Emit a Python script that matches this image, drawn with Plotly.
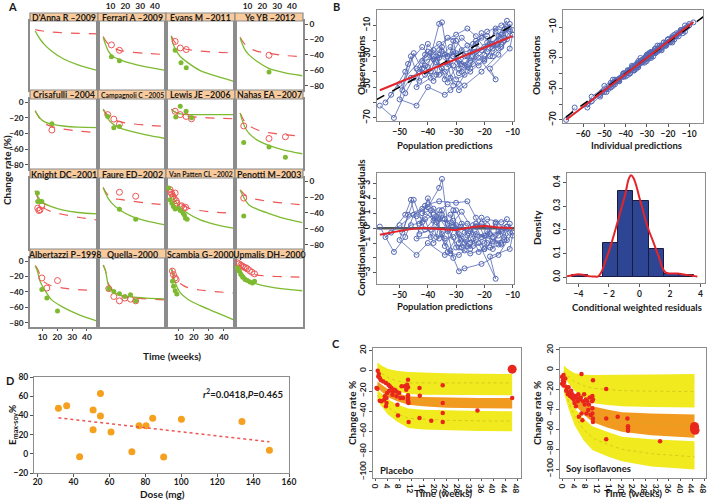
import numpy as np
import plotly.graph_objects as go

W, H = 712, 503
FONT = "Lato"

# ---------------- Panel A data ----------------
studies = ["D'Anna R –2009", "Ferrari A –2009", "Evans M –2011", "Ye YB –2012",
           "Crisafulli –2004", "Campagnoli C –2005", "Lewis JE –2006", "Nahas EA –2007",
           "Knight DC–2001", "Faure ED–2002", "Van Patten CL –2002", "Penotti M–2003",
           "Albertazzi P–1998", "Quella–2000", "Scambia G–2000", "Upmalis DH–2000"]
curve_weeks = [5, 6.5, 8.5, 11, 16, 24, 34, 47]
placebo_curves = [
    [-7, -7.8, -8.5, -9.3, -10.3, -11.3, -12, -12.8],
    [-16, -21, -26, -30, -34, -36.5, -38, -39.5],
    [-15, -21, -26, -30, -33, -35, -36.5, -37.5],
    [-17, -22, -27, -31, -35, -38, -40.5, -42.5],
    [-11, -16, -22, -27, -31, -34.5, -37, -39],
    [-9, -13, -18, -21, -25, -27.5, -29.5, -31],
    [-9, -11.5, -13.5, -16, -18, -19.5, -20.5, -21.3],
    [-14, -20, -26, -30, -35, -39, -41.5, -43.5],
    [-12, -20, -28, -34, -38.5, -42, -45.5, -49],
    [-8, -13, -18, -21, -23, -25, -27.5, -29.8],
    [-12, -17, -22.5, -27, -33.5, -37, -39, -40.4],
    [-11, -14, -17.5, -20.5, -23, -25.5, -27.5, -29.8],
    [-6, -10, -19, -27, -32, -35, -37, -38.5],
    [-5, -12, -29, -37, -44, -47, -49, -50.3],
    [-9, -16, -24, -29, -34.5, -37.5, -39.5, -41.5],
    [-5, -9, -12.5, -15.5, -18, -19.5, -20.3, -21],
]
soy_curves = [
    [-9, -14, -20, -26, -35, -45, -53, -60],
    [-17, -26, -35, -41, -46, -51, -55.5, -60],
    [-16, -27, -35, -42, -50, -60, -67, -74.5],
    [-18, -26, -34, -40, -48, -57, -62.5, -67],
    [-11, -16, -21, -25, -28, -30.5, -32, -32.6],
    [-9, -15, -22, -27, -33, -37.5, -42, -46.5],
    [-9, -11.5, -13.5, -15, -16, -16, -16, -16],
    [-14, -24, -33, -40, -48, -55, -61, -66],
    [-12, -18, -24, -28, -32, -36.5, -39.5, -41.3],
    [-8, -15, -22, -28, -36, -44, -50, -55],
    [-15, -21, -27, -33, -40.5, -48.5, -54.5, -59.6],
    [-11, -17, -24, -30, -35, -40.5, -46.5, -52.3],
    [-6, -13, -27, -36, -50, -60, -69, -77.8],
    [-5, -12, -31, -38, -44, -46.5, -48, -49],
    [-10, -20, -32, -41, -49.5, -57.5, -66, -76.5],
    [-10, -16, -21, -25.5, -29.5, -33, -36, -38.5],
]
placebo_obs_weeks = [
    [48.5], [10.6, 16], [7.6, 11, 15], [24.5],
    [16.3], [8.1, 12.2, 16], [7.6, 11, 14.9, 18.5], [7.4, 24.5, 35.6],
    [6.7, 8.3, 9.5, 7.5], [16, 27, 48], [4.2, 4.7, 5.4, 6.1, 7, 7.6, 8.3, 8.8, 11, 12, 13.3, 14.6], [7.4],
    [9.5, 12.9, 20.1], [8.8, 12.2, 16, 19.7, 23.5, 27], [5.8, 6.5, 7.6, 8.3],
    [3.1, 4.2, 5.4, 6.5, 7.6, 8.8, 9.9, 11.3, 12.9, 14.7],
]
placebo_obs = [
    [-7.7], [-27, -34], [-22.5, -31, -33], [-40.4],
    [-35.7], [-16, -21.7, -28.3], [-11.7, -16, -18.3, -21.3], [-30.4, -46.5, -44.3],
    [-34, -36.2, -31, -37], [-14, -19, -32], [-10.6, -14, -16, -19, -22, -15, -24.7, -27.7, -32, -31, -34, -33], [-21.3],
    [-21.9, -35, -25.3], [-35.8, -45.9, -51.6, -48, -49.4, -51.6], [-13, -17.5, -21.9, -24],
    [-2.2, -3.5, -5.2, -6.5, -7.9, -8.7, -10, -12.2, -14.4, -16.6],
]
soy_obs_weeks = [
    [48.5], [10.6, 16], [7.6, 11.5, 15], [24.5],
    [16.3], [8.1, 12.2, 16], [8, 11, 14.9, 18.5], [7.4, 24.5, 35.6],
    [6.5, 6.7, 8.3, 9.5], [16, 27, 48.5], [3.3, 4.2, 5.4, 6.4, 7.6, 9.8, 11, 12.9, 13.8, 14.5, 15.6], [7.4],
    [9.5, 12.9, 20.1], [8.8, 12.2, 16, 19.7, 23.5, 27], [5.8, 6.5, 7.6, 8.7],
    [3.1, 4.2, 5.4, 6.7, 8.3, 9.9, 11.7, 13.3, 14.7],
]
soy_obs = [
    [-62], [-42.5, -47.7], [-34, -50, -56.6], [-62],
    [-27.8], [-18.3, -32.6, -31.3], [-19, -5.2, -11.7, -20], [-51.7, -57.4, -70.4],
    [-14.9, -25.5, -25.5, -25.5], [-35.3, -48, -55], [-8.5, -23.4, -27.7, -32, -35, -34, -37, -40.4, -42.5, -46.8, -48], [-43.8],
    [-37, -48, -64.7], [-35.8, -39.3, -42.4, -45.9, -43.7, -51.6], [-26, -32.8, -38.5, -42.8],
    [-8.7, -13, -17.5, -21, -24, -25.3, -27, -28.4, -26],
]
a_time_ticks = [10, 20, 30, 40]
a_change_ticks = [0, -20, -40, -60, -80]

# ---------------- Panel B data ----------------
pred = [-57, -52, -48, -45, -40, -36, -35, -33, -30, -25, -20, -15, -12, -10, -11, -18, -16, -22, -28, -31,
        -38, -42, -47, -50, -44, -40, -34, -32, -29, -27, -24, -21, -19, -14, -12, -17, -23, -26, -30, -33,
        -36, -39, -43, -46, -48, -53, -55, -50, -41, -37, -34, -31, -28, -25, -20, -16, -13, -11, -10, -15,
        -21, -27, -29, -32, -35, -38, -41, -44, -40, -36, -30, -26, -23, -19, -14,
        -42, -39, -37, -35, -33, -31, -29, -27, -25, -23, -21, -19, -17, -15, -13, -12, -14, -18, -22, -26,
        -30, -34, -38, -42, -46, -49, -45, -41, -37, -33, -29, -25, -21, -17, -13, -11, -16, -20, -24, -28,
        -32, -36, -40, -44, -39, -35, -31, -27, -23, -19, -15, -12, -20, -28, -36, -43, -38, -33, -29, -24,
        -18, -14, -26, -34, -31]
obs = [-62, -70, -54, -44, -37, -9, -8, -30, -45, -40, -32, -20, -12, -16, -25, -38, -45, -31, -35, -27,
       -32, -24, -35, -58, -62, -50, -55, -52, -48, -42, -22, -18, -14, -10, -7, -22, -27, -30, -20, -18,
       -26, -40, -46, -30, -40, -55, -60, -48, -29, -34, -40, -36, -26, -33, -24, -14, -18, -9, -13, -29,
       -40, -49, -52, -44, -38, -46, -36, -38, -27, -22, -16, -12, -17, -27, -22,
       -33, -28, -42, -24, -35, -20, -38, -30, -27, -22, -26, -21, -30, -17, -13, -19, -24, -30, -36, -23,
       -28, -45, -30, -38, -44, -52, -28, -42, -30, -47, -33, -38, -15, -25, -20, -14, -12, -29, -35, -40,
       -24, -31, -22, -50, -44, -27, -30, -36, -20, -17, -25, -11, -33, -18, -42, -40, -26, -34, -41, -30,
       -22, -16, -37, -29, -49]
ipred = [-64, -68, -52, -46, -36, -12, -10, -31, -43, -38, -30, -18, -13, -15, -23, -36, -44, -30, -34, -28,
         -34, -26, -37, -56, -58, -48, -52, -50, -46, -41, -23, -20, -16, -11, -8, -21, -28, -31, -22, -20,
         -27, -41, -47, -33, -41, -56, -58, -50, -30, -35, -40, -37, -27, -32, -24, -15, -17, -10, -12, -27,
         -38, -47, -49, -43, -38, -45, -37, -39, -29, -24, -18, -14, -18, -26, -21,
         -34, -30, -40, -26, -34, -22, -36, -30, -28, -23, -25, -21, -28, -18, -14, -18, -23, -29, -34, -24,
         -29, -43, -31, -39, -45, -51, -30, -41, -31, -45, -33, -36, -17, -25, -19, -13, -14, -28, -34, -38,
         -26, -32, -25, -49, -43, -29, -31, -35, -21, -18, -24, -12, -31, -20, -41, -41, -28, -34, -39, -30,
         -21, -16, -35, -30, -47]
cwres = [0.1, -1.6, -0.6, 0.9, 1.4, 2.7, 3.3, 0.3, -1.3, -1.7, -1.4, -0.5, 0.1, -0.5, -1.4, -1.9, -3.4, -1.0, -0.7, 0.5,
         0.5, 1.3, 0.9, -0.8, -1.8, -1.0, -1.8, -1.7, -1.8, -1.5, 0.2, 0.3, 0.6, 0.4, 0.6, -0.6, -0.4, -0.5, 1.2, 1.6,
         1.2, -0.1, -0.4, 1.9, 0.9, -0.3, -0.6, 0.2, 1.5, 0.4, -0.7, -0.6, 0.3, -1.0, -0.5, 0.3, -0.6, 0.3, -0.3, -1.8,
         -2.4, -2.7, -2.9, -1.5, -0.4, -1.0, 0.6, 0.8, 1.6, 1.8, 1.7, 1.8, 0.7, -1.0, -1.0,
         1.0, 1.2, -0.6, 1.2, -0.2, 1.2, -1.0, -0.3, -0.2, 0.1, -0.6, -0.2, -1.4, -0.2, 0.0, -0.8, -1.1, -1.3, -1.6, 0.3,
         0.2, -1.2, 0.9, 0.4, 0.2, -0.3, 1.9, -0.1, 0.8, -1.6, -0.4, -1.4, 0.7, -0.9, -0.8, -0.3, 0.4, -1.0, -1.2, -1.3,
         0.9, 0.6, 2.0, -0.7, -0.6, 0.9, 0.1, -1.0, 0.3, 0.2, -1.1, 0.1, -1.4, 1.1, -0.7, 0.3, 1.3, -0.1, -1.3, -0.7,
         -0.4, -0.2, -1.2, 0.6, -2.0]
identity_line = [-75, 0]
cwres_smooth_x = [-57, -50, -45, -40, -35, -30, -25, -20, -15, -10]
cwres_smooth_y = [-0.45, -0.2, -0.05, 0.0, -0.08, -0.12, 0.05, 0.15, 0.05, 0.0]
hist_centers = [-3.9, -2.9, -1.9, -0.9, 0.1, 1.1, 2.1, 3.1]
hist_density = [0.01, 0.0, 0.145, 0.365, 0.32, 0.12, 0.015, 0.01]
dens_x = [-4.75, -4.4, -4.0, -3.6, -3.2, -2.9, -2.7, -2.5, -2.27, -2.0, -1.8, -1.36, -0.93, -0.7, -0.55, -0.4,
          -0.2, 0, 0.2, 0.4, 0.6, 0.87, 1.1, 1.3, 1.5, 1.7, 2.0, 2.5, 3.0, 3.5, 3.8]
dens_y = [0.003, 0.008, 0.012, 0.008, 0.003, 0.002, 0.003, 0.02, 0.06, 0.11, 0.15, 0.25, 0.35, 0.415, 0.43, 0.42,
          0.385, 0.335, 0.29, 0.24, 0.2, 0.155, 0.115, 0.08, 0.04, 0.02, 0.015, 0.015, 0.01, 0.006, 0.002]

# ---------------- Panel C data ----------------
vpc_weeks_pl = [0.5, 2, 4, 7, 11, 16, 24, 35, 46.3]
pl_up_hi = [8.5, 5, 2, 0, -1.3, -2, -2.5, -3, -3.3]
pl_up_mid = [1.5, -2.5, -6.5, -10, -12, -12, -12, -12, -12]
pl_up_lo = [-5.6, -10, -15, -20, -23, -23.8, -24.1, -24.3, -24.3]
pl_med_hi = [-10.5, -14, -18, -22, -25.3, -26, -26.5, -27, -27]
pl_med_mid = [-14, -17.5, -22, -26, -29.5, -30.5, -31.5, -32, -32.2]
pl_med_lo = [-17, -21, -26, -30, -33.5, -35, -36.5, -37, -37.4]
pl_lo_hi = [-18.7, -23, -28, -33, -37.4, -38.5, -39.3, -39.8, -40]
pl_lo_mid = [-24, -30, -36, -42, -47, -48, -49, -49.5, -49.8]
pl_lo_lo = [-30, -36, -43, -50, -56.5, -58, -59, -59.5, -59.8]
vpc_weeks_soy = [0.3, 2, 4, 7, 10, 15, 20, 30, 44.7]
so_up_hi = [4.2, 0, -3.5, -5, -5.3, -5.3, -5.3, -4.8, -4.2]
so_up_mid = [-1.5, -7, -12, -16, -18.5, -20, -21, -21.5, -22]
so_up_lo = [-7, -14, -21, -28, -33.3, -35.5, -36.8, -37.5, -37.9]
so_med_hi = [-10.5, -18, -26, -32, -36.8, -40, -42.8, -44, -45]
so_med_mid = [-14, -22, -30.5, -38, -44.5, -48.5, -51.5, -54, -55.4]
so_med_lo = [-17.5, -26, -35, -45, -52.6, -58, -62.5, -66, -68.4]
so_lo_hi = [-14, -26, -38.6, -49, -56.8, -62.5, -67.4, -70, -72]
so_lo_mid = [-18, -33, -47, -60, -68.5, -75, -80, -84.5, -87.7]
so_lo_lo = [-22.8, -40, -56, -71, -80.7, -87, -92, -97.5, -100.5]
pl_t = [0.6, 0.8, 1.0, 1.3, 0.2, 0.5, 1.7, 1.3, 1.9, 2.5, 2.8, 3.0, 3.4, 3.6, 3.6, 3.4, 4.2, 4.5, 3.8, 4.7,
        5.3, 5.6, 5.8, 6.4, 7.0, 7.0, 7.3, 7.5, 7.9, 8.3, 8.7, 9.2, 9.8, 10.3, 10.6, 10.9, 10.9, 10.9, 10.9, 10.9,
        10.9, 11.1, 11.1, 14.8, 14.9, 14.8, 18.8, 22.7, 22.7, 22.7, 22.7, 34.5, 46.3]
pl_v = [0, -5.6, -3.3, -7.2, -17, -17.7, -9.5, -29.6, -30.2, -10.5, -28.6, -25.3, -12.2, -27, -31.9, -35, -13.8, -19.7, -22, -15.4,
        -17, -23.6, -20.4, -18.7, -25.3, -20.4, -33.5, -44.3, -22, -26.9, -15.4, -26.9, -15.4, -18.7, -13.8, -8.9, -16.4, -24.3, -26.9, -29.2,
        -30.9, -31.9, -50.6, -17, -24.6, -46.6, -49.3, -14.4, -31.9, -41.7, -50.6, -39.4, -27]
pl_big_t = [46.3]
pl_big_v = [1.6]
so_t = [-0.3, 0, 0.2, 0.4, -0.3, 0.8, 0.2, 1.1, 1.3, 1.7, 1.9, 2.2, 2.4, 2.8, 3.0, 3.2, 3.6, 3.9, 4.1, 4.4,
        4.7, 5.0, 5.2, 5.4, 5.8, 6.1, 6.3, 6.3, 6.6, 6.9, 7.2, 7.4, 7.8, 8.0, 8.3, 8.6, 8.8, 9.1, 9.4, 9.9,
        10.0, 10.0, 10.0, 10.2, 10.2, 10.2, 10.2, 14.7, 14.7, 14.7, 18.6, 21.9, 22.1, 22.1, 22.1, 33.0]
so_v = [-7, -10.5, -5.3, -12.3, -14, -8.8, -15.8, -21, -17.5, -24.6, -17.5, -22.8, -26.3, -21, -28, -24.6, -29.8, -33.3, -26.3, -36.8,
        -28, -31.6, -24.6, -47.4, -29.8, -28, -4.2, -43.9, -50.9, -31.6, -24.6, -35, -29.8, -43.9, -31.6, -40.4, -35, -28, -45.6, -31.6,
        -26.3, -38.6, -43.9, -49, -10.5, -52.6, -29.8, -19.3, -49, -70, -47.4, -49, -59, -61.4, -56.8, -72]
so_big_t = [44.7, 44.7, 44.9]
so_big_v = [-57, -59.6, -61]
vpc_week_ticks = list(range(0, 49, 4))
vpc_change_ticks = [20, 0, -20, -40, -60, -80, -100]

# ---------------- Panel D data ----------------
dose_mg = [31.6, 36.2, 43.4, 50.9, 50.9, 55, 55, 60.9, 72.5, 76.5, 80.4, 84.1, 90.2, 100.1, 133.8, 149.1]
emax_soy = [47.4, 50.1, -3.1, 45.7, 25.1, 62.8, 39.5, 22.7, 2.1, 29.2, 29.2, 37.1, -3.4, 36, 33.6, 3.8]
dose_ticks = [20, 40, 60, 80, 100, 120, 140, 160]
emax_ticks = [-20, 0, 20, 40, 60, 80]

# ---------------- helpers ----------------
GREEN = '#7DBA30'
PINK = '#EE5555'
BLUE = '#5468B4'
REDL = '#E3242B'
YEL = '#F1EA1E'
ORG = '#F29A1F'
PTRED = '#E8261C'
FRAME = '#8c8c8c'


def px_x(a, b):
    return [a / W, b / W]


def px_y(top, bottom):
    return [1 - bottom / H, 1 - top / H]


def tf(size=9):
    return dict(family=FONT, size=size, color='#1a1a1a', weight=700)


def axis(**kw):
    d = dict(showgrid=False, zeroline=False, showline=True, mirror=True, automargin=False,
             linecolor=FRAME, linewidth=1, ticks='outside', ticklen=3,
             tickcolor='#555', tickwidth=1, tickfont=tf(8.5), showticklabels=True)
    d.update(kw)
    return d


def xk(n):
    return 'xaxis' if n == 1 else f'xaxis{n}'


def yk(n):
    return 'yaxis' if n == 1 else f'yaxis{n}'


def xr(n):
    return 'x' if n == 1 else f'x{n}'


def yr(n):
    return 'y' if n == 1 else f'y{n}'


fig = go.Figure()
layout = {}
annotations = []
shapes = []


def label(text, x, y, size=10, angle=0, **kw):
    d = dict(text='<b>' + text + '</b>', x=x / W, y=1 - y / H, xref='paper', yref='paper', showarrow=False,
             font=tf(size), textangle=angle, xanchor='center', yanchor='middle')
    d.update(kw)
    annotations.append(d)


def minor(vals):
    return dict(tickvals=vals, ticks='outside', ticklen=3, tickcolor='#555', tickwidth=1, showgrid=False)


# ---------------- Panel A ----------------
cols = [(30, 98), (98, 166), (166, 235), (235, 303)]
rows = [(21, 90), (99, 169), (178, 249), (258, 327)]
hdrs = [(13, 21), (90, 99), (169, 178), (249, 258)]
for i in range(16):
    r, c = divmod(i, 4)
    n = i + 1
    xa = axis(domain=px_x(*cols[c]), range=[1.5, 47.5], anchor=yr(n), linewidth=1.5,
              tickvals=a_time_ticks, ticks='', showticklabels=False, tickfont=tf(8.3))
    if r == 0 and c in (1, 3):
        xa.update(side='top', ticks='', showticklabels=True, ticklabelstandoff=7)
    if r == 3 and c in (0, 2):
        xa.update(side='bottom', ticks='outside', ticklen=2, showticklabels=True, ticklabelstandoff=-1)
    ya = axis(domain=px_y(*rows[r]), range=[-85.5, 4], anchor=xr(n), linewidth=1.5,
              tickvals=a_change_ticks, ticks='', showticklabels=False, tickfont=tf(8.3))
    if r in (0, 2) and c == 3:
        ya.update(side='right', ticks='outside', showticklabels=True)
    if r in (1, 3) and c == 0:
        ya.update(side='left', ticks='outside', showticklabels=True)
    layout[xk(n)] = xa
    layout[yk(n)] = ya
    fig.add_trace(go.Scatter(x=curve_weeks, y=placebo_curves[i], mode='lines',
                             line=dict(color=PINK, width=1.2, dash='dash', shape='spline', smoothing=0.8),
                             xaxis=xr(n), yaxis=yr(n), showlegend=False, hoverinfo='skip'))
    fig.add_trace(go.Scatter(x=curve_weeks, y=soy_curves[i], mode='lines',
                             line=dict(color=GREEN, width=1.3, shape='spline', smoothing=0.8),
                             xaxis=xr(n), yaxis=yr(n), showlegend=False, hoverinfo='skip'))
    fig.add_trace(go.Scatter(x=placebo_obs_weeks[i], y=placebo_obs[i], mode='markers',
                             marker=dict(symbol='circle-open', size=6, color=PINK, line=dict(width=1)),
                             xaxis=xr(n), yaxis=yr(n), showlegend=False, cliponaxis=False))
    fig.add_trace(go.Scatter(x=soy_obs_weeks[i], y=soy_obs[i], mode='markers',
                             marker=dict(size=5, color=GREEN),
                             xaxis=xr(n), yaxis=yr(n), showlegend=False, cliponaxis=False))
    h0, h1 = hdrs[r]
    shapes.append(dict(type='rect', xref='paper', yref='paper', x0=cols[c][0] / W, x1=cols[c][1] / W,
                       y0=1 - h1 / H, y1=1 - h0 / H, fillcolor='#F8CA9C', line=dict(color=FRAME, width=1.2),
                       layer='above'))
    small = i in (5, 10)
    label(studies[i], (cols[c][0] + cols[c][1]) / 2, (h0 + h1) / 2 + 0.5, size=6.8 if small else 8.8)

label('A', 12, 6, size=11)
label('Change rate (%)', 7, 170, size=10, angle=-90)
label('Time (weeks)', 172, 356, size=10)

# ---------------- Panel B ----------------
marker_b = dict(symbol='circle-open', size=5, color=BLUE, line=dict(width=1))
# B1
n = 17
layout[xk(n)] = axis(domain=px_x(377, 514), range=[-58, -9.5], anchor=yr(n), tickvals=[-50, -40, -30, -20, -10])
layout[yk(n)] = axis(domain=px_y(10, 121), range=[-72, 0], anchor=xr(n),
                     tickvals=[-70, -50, -30, -10], minor=minor([-60, -40, -20]), tickangle=-90)
fig.add_trace(go.Scatter(x=pred, y=obs, mode='lines+markers', line=dict(color=BLUE, width=0.8), marker=marker_b,
                         xaxis=xr(n), yaxis=yr(n), showlegend=False))
fig.add_trace(go.Scatter(x=identity_line, y=identity_line, mode='lines', line=dict(color='black', width=1.5, dash='dash'),
                         xaxis=xr(n), yaxis=yr(n), showlegend=False))
b1 = np.polyfit(pred, obs, 1)
xs = np.array([min(pred), max(pred)])
fig.add_trace(go.Scatter(x=xs, y=np.polyval(b1, xs), mode='lines', line=dict(color=REDL, width=2),
                         xaxis=xr(n), yaxis=yr(n), showlegend=False))
label('Observations', 361, 65, size=10, angle=-90)
label('Population predictions', 445, 146, size=9.5)

# B2
n = 18
layout[xk(n)] = axis(domain=px_x(563, 703), range=[-69.5, -3.5], anchor=yr(n), tickvals=[-60, -50, -40, -30, -20, -10])
layout[yk(n)] = axis(domain=px_y(10, 123), range=[-72, 1], anchor=xr(n),
                     tickvals=[-70, -50, -30, -10], minor=minor([-60, -40, -20]), tickangle=-90)
fig.add_trace(go.Scatter(x=ipred, y=obs, mode='lines+markers', line=dict(color=BLUE, width=0.8), marker=marker_b,
                         xaxis=xr(n), yaxis=yr(n), showlegend=False))
fig.add_trace(go.Scatter(x=identity_line, y=identity_line, mode='lines', line=dict(color='black', width=1.5, dash='dash'),
                         xaxis=xr(n), yaxis=yr(n), showlegend=False))
b2 = np.polyfit(ipred, obs, 1)
xs = np.array([min(ipred), max(ipred)])
fig.add_trace(go.Scatter(x=xs, y=np.polyval(b2, xs), mode='lines', line=dict(color=REDL, width=2),
                         xaxis=xr(n), yaxis=yr(n), showlegend=False))
label('Observations', 536, 65, size=10, angle=-90)
label('Individual predictions', 636, 146, size=9.5)

# B3
n = 19
layout[xk(n)] = axis(domain=px_x(377, 514), range=[-58, -9.5], anchor=yr(n), tickvals=[-50, -40, -30, -20, -10])
layout[yk(n)] = axis(domain=px_y(173, 284), range=[-3.75, 3.7], anchor=xr(n),
                     tickvals=[-3, -1, 0, 1, 2, 3], minor=minor([-2]), tickangle=-90)
shapes.append(dict(type='line', xref=f'{xr(n)} domain', yref=yr(n), x0=0, x1=1, y0=0, y1=0,
                   line=dict(color='#555', width=2.5), layer='below'))
fig.add_trace(go.Scatter(x=pred, y=cwres, mode='lines+markers', line=dict(color=BLUE, width=0.8), marker=marker_b,
                         xaxis=xr(n), yaxis=yr(n), showlegend=False))
fig.add_trace(go.Scatter(x=cwres_smooth_x, y=cwres_smooth_y, mode='lines',
                         line=dict(color=REDL, width=2, shape='spline'), xaxis=xr(n), yaxis=yr(n), showlegend=False))
label('Conditional weighted residuals', 361, 228, size=10, angle=-90)
label('Population predictions', 445, 306, size=9.5)

# B4
n = 20
layout[xk(n)] = axis(domain=px_x(567, 705), range=[-4.75, 4.3], anchor=yr(n), tickvals=[-4, -2, 0, 2, 4],
                     ticktext=['−4', '− 2', '0', '2', '4'])
layout[yk(n)] = axis(domain=px_y(173, 283), range=[-0.025, 0.44], anchor=xr(n),
                     tickvals=[0, 0.1, 0.2, 0.3, 0.4], tickformat='.1f', tickangle=-90)
fig.add_trace(go.Bar(x=hist_centers, y=hist_density, width=1, marker=dict(color='#2D4593', line=dict(color='#1a1a40', width=1)),
                     xaxis=xr(n), yaxis=yr(n), showlegend=False))
fig.add_trace(go.Scatter(x=dens_x, y=dens_y, mode='lines', line=dict(color=REDL, width=2, shape='spline'),
                         xaxis=xr(n), yaxis=yr(n), showlegend=False))
label('Density', 537, 228, size=10, angle=-90)
label('Conditional weighted residuals', 637, 307, size=9.5)
label('B', 336, 6, size=11)


# ---------------- Panel C ----------------
def vpc(n, weeks, bands, mids, pts_t, pts_v, big_t, big_v):
    for (hi, lo), col in zip(bands, [YEL, ORG, YEL]):
        fig.add_trace(go.Scatter(x=weeks + weeks[::-1], y=hi + lo[::-1], fill='toself', fillcolor=col,
                                 mode='lines', line=dict(width=0), xaxis=xr(n), yaxis=yr(n), showlegend=False,
                                 hoverinfo='skip'))
    for m in mids:
        fig.add_trace(go.Scatter(x=weeks, y=m, mode='lines', line=dict(color='#C9B21C', width=0.6, dash='dot'),
                                 xaxis=xr(n), yaxis=yr(n), showlegend=False, hoverinfo='skip'))
    fig.add_trace(go.Scatter(x=pts_t, y=pts_v, mode='markers', marker=dict(size=4.5, color=PTRED),
                             xaxis=xr(n), yaxis=yr(n), showlegend=False))
    fig.add_trace(go.Scatter(x=big_t, y=big_v, mode='markers', marker=dict(size=9, color=PTRED),
                             xaxis=xr(n), yaxis=yr(n), showlegend=False))


n = 21
layout[xk(n)] = axis(domain=px_x(373, 521), range=[-1, 49.3], anchor=yr(n), tickvals=vpc_week_ticks, ticklen=2,
                     tickfont=tf(8.3), ticklabelstandoff=-3)
layout[yk(n)] = axis(domain=px_y(348, 478), range=[-106, 22.5], anchor=xr(n), tickvals=vpc_change_ticks,
                     tickangle=-90, tickfont=tf(8.3))
vpc(n, vpc_weeks_pl, [(pl_up_hi, pl_up_lo), (pl_med_hi, pl_med_lo), (pl_lo_hi, pl_lo_lo)],
    [pl_up_mid, pl_med_mid, pl_lo_mid], pl_t, pl_v, pl_big_t, pl_big_v)
label('Change rate %', 352, 413, size=10, angle=-90)
label('Time (weeks)', 443, 493, size=10)
label('Placebo', 378, 470, size=9.5, xanchor='left')

n = 22
layout[xk(n)] = axis(domain=px_x(560, 706), range=[-1, 48.6], anchor=yr(n), tickvals=vpc_week_ticks, ticklen=2,
                     tickfont=tf(8.3), ticklabelstandoff=-3)
layout[yk(n)] = axis(domain=px_y(348, 478), range=[-109, 22], anchor=xr(n), tickvals=vpc_change_ticks,
                     tickangle=-90, tickfont=tf(8.3))
vpc(n, vpc_weeks_soy, [(so_up_hi, so_up_lo), (so_med_hi, so_med_lo), (so_lo_hi, so_lo_lo)],
    [so_up_mid, so_med_mid, so_lo_mid], so_t, so_v, so_big_t, so_big_v)
label('Change rate %', 537, 413, size=10, angle=-90)
label('Time (weeks)', 633, 493, size=10)
label('Soy isoflavones', 564, 468, size=9.5, xanchor='left')
label('C', 336, 343, size=11)

# ---------------- Panel D ----------------
n = 23
layout[xk(n)] = axis(domain=px_x(34, 289), range=[18, 160], anchor=yr(n), tickvals=dose_ticks,
                     ticklabelstandoff=-2)
layout[yk(n)] = axis(domain=px_y(377, 473), range=[-20, 80], anchor=xr(n), tickvals=emax_ticks)
fig.add_trace(go.Scatter(x=dose_mg, y=emax_soy, mode='markers', marker=dict(size=7, color='#F5A01E'),
                         xaxis=xr(n), yaxis=yr(n), showlegend=False, cliponaxis=False))
bd = np.polyfit(dose_mg, emax_soy, 1)
xs = np.linspace(min(dose_mg), max(dose_mg), 2)
fig.add_trace(go.Scatter(x=xs, y=np.polyval(bd, xs), mode='lines', line=dict(color=PINK, width=1.5, dash='dot'),
                         xaxis=xr(n), yaxis=yr(n), showlegend=False))
label('<i>r</i><sup>2</sup>=0.0418,<i>P</i>=0.465', 285, 393, size=9.5, xanchor='right')
label('E<sub>max-soy</sub>%', 12, 425, size=10, angle=-90)
label('Dose (mg)', 162, 494, size=10)
label('D', 10, 380, size=11)

fig.update_layout(**layout)
fig.update_layout(width=W, height=H, autosize=False, margin=dict(l=0, r=0, t=0, b=0, pad=0), paper_bgcolor='white',
                  plot_bgcolor='white', annotations=annotations, shapes=shapes, bargap=0,
                  font=dict(family=FONT), showlegend=False)
fig.write_html("out.html", config={'displayModeBar': False},
               post_script="document.body.style.margin='0';document.body.style.overflow='hidden';")
